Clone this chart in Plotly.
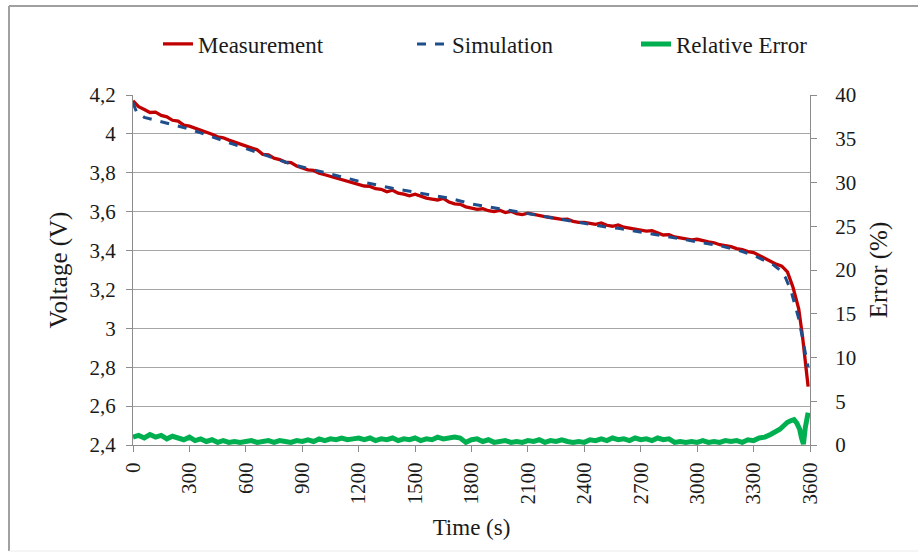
import plotly.graph_objects as go

# ---------------- data ----------------
meas_t = list(range(0, 3451, 30)) + [3480, 3510, 3540, 3560, 3575, 3590]
meas_v = [
    4.170, 4.140, 4.125, 4.110, 4.112, 4.095, 4.088, 4.070, 4.066, 4.045,
    4.040, 4.030, 4.020, 4.010, 3.998, 3.985, 3.980, 3.968, 3.958, 3.945,
    3.935, 3.925, 3.918, 3.895, 3.892, 3.875, 3.868, 3.855, 3.852, 3.835,
    3.825, 3.815, 3.812, 3.798, 3.790, 3.782, 3.770, 3.762, 3.755, 3.746,
    3.740, 3.732, 3.730, 3.718, 3.715, 3.702, 3.710, 3.695, 3.690, 3.682,
    3.690, 3.678, 3.670, 3.665, 3.660, 3.668, 3.650, 3.640, 3.638, 3.625,
    3.620, 3.612, 3.615, 3.605, 3.600, 3.607, 3.595, 3.602, 3.590, 3.585,
    3.592, 3.585, 3.580, 3.575, 3.570, 3.565, 3.560, 3.562, 3.550, 3.545,
    3.545, 3.540, 3.535, 3.542, 3.530, 3.525, 3.532, 3.520, 3.515, 3.512,
    3.505, 3.500, 3.502, 3.490, 3.480, 3.482, 3.470, 3.465, 3.460, 3.455,
    3.458, 3.450, 3.445, 3.440, 3.430, 3.425, 3.420, 3.410, 3.405, 3.395,
    3.390, 3.375, 3.360, 3.345, 3.330, 3.320,
    3.290, 3.210, 3.100, 2.960, 2.820, 2.700,
]

sim_t = [0, 20, 60, 120, 180, 240, 300, 360, 420, 480, 540, 600, 660, 720, 780,
         840, 900, 960, 1020, 1080, 1140, 1200, 1260, 1320, 1380, 1440, 1500,
         1560, 1620, 1680, 1740, 1800, 1860, 1920, 1980, 2040, 2100, 2160, 2220,
         2280, 2340, 2400, 2460, 2520, 2580, 2640, 2700, 2760, 2820, 2880, 2940,
         3000, 3060, 3120, 3180, 3240, 3300, 3360, 3400, 3440, 3470, 3500, 3520,
         3540, 3560, 3575, 3590]
sim_v = [4.16, 4.11, 4.085, 4.07, 4.055, 4.04, 4.025, 4.005, 3.985, 3.965, 3.945,
         3.925, 3.905, 3.885, 3.865, 3.845, 3.83, 3.815, 3.80, 3.785, 3.77, 3.757,
         3.745, 3.732, 3.72, 3.71, 3.70, 3.69, 3.68, 3.67, 3.655, 3.64, 3.63, 3.62,
         3.61, 3.60, 3.59, 3.58, 3.57, 3.56, 3.55, 3.54, 3.53, 3.52, 3.515, 3.505,
         3.495, 3.485, 3.475, 3.465, 3.455, 3.445, 3.435, 3.425, 3.41, 3.395,
         3.375, 3.35, 3.33, 3.30, 3.26, 3.19, 3.12, 3.05, 2.95, 2.87, 2.80]

err_t = list(range(0, 3301, 30)) + [3330, 3360, 3390, 3420, 3440, 3460, 3480, 3500,
                                     3515, 3530, 3545, 3555, 3565, 3575, 3590]
err_v = [
    0.9, 1.1, 0.8, 1.2, 0.9, 1.1, 0.7, 1.0, 0.8, 0.6,
    0.9, 0.5, 0.7, 0.4, 0.6, 0.3, 0.5, 0.3, 0.4, 0.3,
    0.4, 0.5, 0.3, 0.4, 0.5, 0.3, 0.5, 0.4, 0.3, 0.5,
    0.4, 0.6, 0.4, 0.7, 0.5, 0.7, 0.6, 0.8, 0.6, 0.7,
    0.8, 0.6, 0.8, 0.5, 0.7, 0.6, 0.8, 0.5, 0.7, 0.6,
    0.8, 0.5, 0.7, 0.6, 0.9, 0.7, 0.8, 0.9, 0.8, 0.3,
    0.6, 0.7, 0.4, 0.6, 0.3, 0.4, 0.5, 0.3, 0.4, 0.3,
    0.5, 0.4, 0.6, 0.3, 0.5, 0.4, 0.6, 0.4, 0.3, 0.4,
    0.3, 0.6, 0.5, 0.7, 0.5, 0.8, 0.6, 0.7, 0.5, 0.8,
    0.6, 0.7, 0.5, 0.8, 0.6, 0.7, 0.3, 0.4, 0.3, 0.4,
    0.3, 0.5, 0.3, 0.4, 0.3, 0.5, 0.4, 0.5, 0.3, 0.6,
    0.5,
    0.8, 0.9, 1.2, 1.5, 1.8, 2.2, 2.6, 2.8, 2.9, 2.5, 1.8, 0.8, 0.1, 2.0, 3.7,
]

x_ticks = [0, 300, 600, 900, 1200, 1500, 1800, 2100, 2400, 2700, 3000, 3300, 3600]
y_ticks = [2.4, 2.6, 2.8, 3.0, 3.2, 3.4, 3.6, 3.8, 4.0, 4.2]
y_ticklabels = ["2,4", "2,6", "2,8", "3", "3,2", "3,4", "3,6", "3,8", "4", "4,2"]
y2_ticks = [0, 5, 10, 15, 20, 25, 30, 35, 40]

# ---------------- figure ----------------
FONT = "Liberation Serif"
AXC = "#8c8c8c"

fig = go.Figure()
fig.add_trace(go.Scatter(x=meas_t, y=meas_v, mode="lines", name="Measurement",
                         line=dict(color="#C00000", width=3.3), legend="legend"))
fig.add_trace(go.Scatter(x=sim_t, y=sim_v, mode="lines", name="Simulation",
                         line=dict(color="#1F4E8C", width=3, dash="dash"), legend="legend2"))
fig.add_trace(go.Scatter(x=err_t, y=err_v, mode="lines", name="Relative Error",
                         line=dict(color="#00B050", width=5), yaxis="y2", legend="legend3"))

L, R, T, B = 133, 108, 95, 112
W, H = 918, 557
pw, ph = W - L - R, H - T - B


def px(xp):
    return (xp - L) / pw


def py(yp):
    return (H - B - yp) / ph


def leg(xpix):
    return dict(orientation="h", x=px(xpix), xanchor="left", y=py(44), yanchor="middle",
                font=dict(size=23), bgcolor="rgba(0,0,0,0)")


fig.update_layout(
    width=W, height=H,
    margin=dict(l=L, r=R, t=T, b=B),
    paper_bgcolor="white", plot_bgcolor="white",
    font=dict(family=FONT, size=21, color="#1a1a1a"),
    showlegend=True,
    legend=leg(158),
    legend2=leg(412),
    legend3=leg(636),
    xaxis=dict(range=[0, 3600], tickvals=x_ticks, tickangle=-90,
               showgrid=False, zeroline=False, showline=True, linecolor=AXC, linewidth=1,
               ticks="outside", ticklen=6, tickcolor=AXC, ticklabelstandoff=2,
               title=dict(text="Time (s)", standoff=15, font=dict(size=23))),
    yaxis=dict(range=[2.4, 4.2], tickvals=y_ticks, ticktext=y_ticklabels,
               showgrid=True, gridcolor="#a6a6a6", gridwidth=1.3, zeroline=False,
               showline=True, linecolor=AXC, linewidth=1,
               ticks="outside", ticklen=6, tickcolor=AXC, ticklabelstandoff=6,
               title=dict(text="Voltage (V)", standoff=14)),
    yaxis2=dict(range=[0, 40], tickvals=y2_ticks, overlaying="y", side="right",
                showgrid=False, zeroline=False, showline=True, linecolor=AXC, linewidth=1,
                ticks="outside", ticklen=6, tickcolor=AXC, ticklabelstandoff=14,
                title=dict(text="Error (%)", standoff=14)),
    shapes=[
        dict(type="line", xref="paper", yref="paper", x0=px(9), x1=px(9), y0=py(6), y1=py(551),
             line=dict(color="#a0a0a0", width=2)),
        dict(type="line", xref="paper", yref="paper", x0=px(9), x1=px(930), y0=py(6), y1=py(6),
             line=dict(color="#a0a0a0", width=2)),
        dict(type="line", xref="paper", yref="paper", x0=px(9), x1=px(930), y0=py(551), y1=py(551),
             line=dict(color="#ececec", width=1)),
    ],
)

fig.write_html("out.html")
